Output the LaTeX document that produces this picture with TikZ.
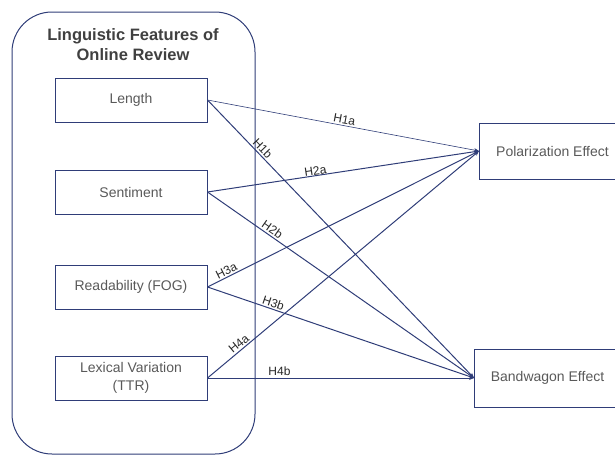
\documentclass[tikz,border=0pt]{standalone}
\usepackage{fontspec}
\setmainfont{Liberation Sans}
\usepackage{xcolor}
\definecolor{lineBlue}  {HTML}{2F3D78}
\definecolor{boxText}   {HTML}{595959}
\definecolor{titleText} {HTML}{404040}
\definecolor{hypText}   {HTML}{262626}
\usetikzlibrary{arrows.meta, positioning}
\tikzset{
    groupbox/.style={draw=lineBlue, line width=1pt, rounded corners=40pt,
                     minimum width=243pt, minimum height=442pt, inner sep=0pt},
    grouptitle/.style={align=center, text=titleText,
                       font=\fontsize{16.5}{20}\selectfont\bfseries},
    feature/.style={draw=lineBlue, line width=1pt, minimum width=152pt,
                    minimum height=44pt, align=center, text=boxText,
                    font=\fontsize{14}{18}\selectfont},
    effect/.style={feature, minimum width=146pt, anchor=west},
    hypo/.style={-{Stealth[length=5pt, width=4pt]}, line width=1pt, lineBlue},
    thinhypo/.style={hypo, line width=0.6pt},
    hlabel/.style={sloped, above, inner sep=1.5pt, text=hypText,
                   font=\fontsize{12}{14}\selectfont},
}
\begin{document}
\begin{tikzpicture}[x=1pt, y=-1pt, node distance=47pt]
    \clip (0,0) rectangle (615,455);
    \useasboundingbox (0,0) rectangle (615,455);
    \node[groupbox] (group) at (133.5,233) {};
    \node[grouptitle] (title) at (133,45) {Linguistic Features of\\Online Review};
    \node[feature] (length) at (131,100) {Length};
    \node[feature, below=of length] (senti) {Sentiment};
    \node[feature, below=50pt of senti] (fog) {Readability (FOG)};
    \node[feature, below=46pt of fog] (ttr) {Lexical Variation\\(TTR)};
    \node[effect, minimum height=56pt] (polar) at (479,151) {Polarization Effect};
    \node[effect, minimum height=58pt] (wagon) at (474,378) {Bandwagon Effect};
    \draw[thinhypo] (length.east) -- node[hlabel, pos=0.5] {H1a} (polar.west);
    \draw[hypo] (length.east) -- node[hlabel, pos=0.19] {H1b} (wagon.west);
    \draw[hypo] (senti.east) -- node[hlabel, pos=0.4, inner sep=0pt] {H2a} (polar.west);
    \draw[hypo] (senti.east) -- node[hlabel, pos=0.23] {H2b} (wagon.west);
    \draw[hypo] (fog.east) -- node[hlabel, pos=0.08] {H3a} (polar.west);
    \draw[hypo] (fog.east) -- node[hlabel, pos=0.24] {H3b} (wagon.west);
    \draw[hypo] (ttr.east) -- node[hlabel, pos=0.13] {H4a} (polar.west);
    \draw[hypo] (ttr.east) -- node[hlabel, pos=0.27] {H4b} (wagon.west);
\end{tikzpicture}
\end{document}
